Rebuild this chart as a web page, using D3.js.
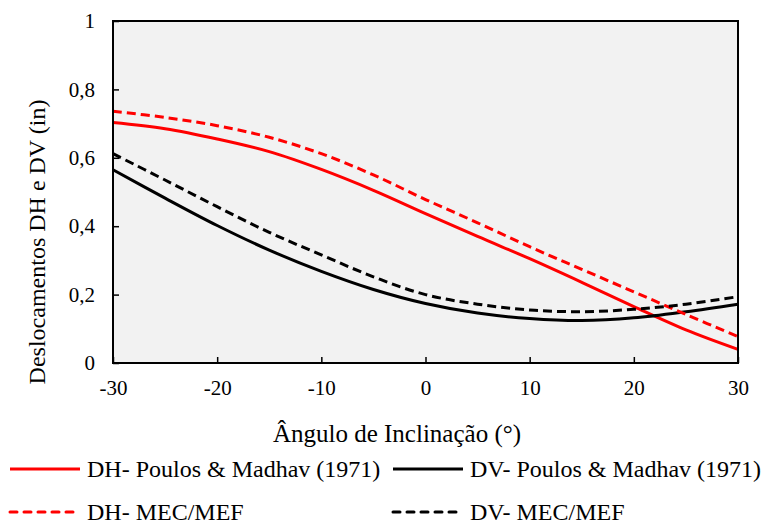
<!DOCTYPE html>
<html>
<head>
<meta charset="utf-8">
<script src="https://cdn.jsdelivr.net/npm/d3@7"></script>
<style>
  body { margin: 0; background: #fff; }
  svg text { font-family: "Liberation Serif", Tinos, "Times New Roman", Times, "DejaVu Serif", serif; fill: #000; }
</style>
</head>
<body>
<div id="chart"></div>
<script>
// angle of inclination (deg)
const angles = [-30, -25, -20, -15, -10, -5, 0, 5, 10, 15, 20, 25, 30];
// displacements (in)
const dhPoulos = [0.703, 0.685, 0.655, 0.618, 0.566, 0.505, 0.437, 0.370, 0.305, 0.236, 0.165, 0.097, 0.040];
const dhMec    = [0.736, 0.718, 0.694, 0.660, 0.612, 0.550, 0.478, 0.410, 0.340, 0.274, 0.208, 0.142, 0.077];
const dvPoulos = [0.565, 0.482, 0.402, 0.330, 0.268, 0.215, 0.174, 0.146, 0.130, 0.124, 0.132, 0.150, 0.172];
const dvMec    = [0.612, 0.535, 0.457, 0.382, 0.316, 0.252, 0.200, 0.172, 0.155, 0.150, 0.157, 0.172, 0.194];
const xTicks = [-30, -20, -10, 0, 10, 20, 30];
const yTicks = [0, 0.2, 0.4, 0.6, 0.8, 1];

const series = [
  {name: "DH- Poulos & Madhav (1971)", values: dhPoulos, color: "#ff0000", dash: null},
  {name: "DV- Poulos & Madhav (1971)", values: dvPoulos, color: "#000000", dash: null},
  {name: "DH- MEC/MEF", values: dhMec, color: "#ff0000", dash: "9,5"},
  {name: "DV- MEC/MEF", values: dvMec, color: "#000000", dash: "9,5"}
];

const width = 764, height = 524;
const m = {left: 113, right: 26, top: 21, bottom: 161};
const serif = '"Liberation Serif", Tinos, "Times New Roman", Times, "DejaVu Serif", serif';

const svg = d3.select("#chart").append("svg")
  .attr("width", width)
  .attr("height", height);

const x = d3.scaleLinear().domain([-30, 30]).range([m.left, width - m.right]);
const y = d3.scaleLinear().domain([0, 1]).range([height - m.bottom, m.top]);

svg.append("rect")
  .attr("x", x(-30)).attr("y", y(1))
  .attr("width", x(30) - x(-30)).attr("height", y(0) - y(1))
  .attr("fill", "#f2f2f2");

const fmtY = d => d3.format(".1~f")(d).replace(".", ",");
const fmtX = d => String(d);

// x axis, ticks pointing up into the plot
const xAxis = svg.append("g")
  .attr("transform", `translate(0,${y(0)})`)
  .call(d3.axisBottom(x).tickValues(xTicks).tickFormat(fmtX).tickSizeInner(-6).tickSizeOuter(0).tickPadding(17));
xAxis.attr("font-family", serif);
xAxis.select(".domain").remove();
xAxis.selectAll("line").attr("stroke", "#000").attr("stroke-width", 1.5);
xAxis.selectAll("text").attr("font-size", 21);

const yAxis = svg.append("g")
  .attr("transform", `translate(${x(-30)},0)`)
  .call(d3.axisLeft(y).tickValues(yTicks).tickFormat(fmtY).tickSizeInner(-6).tickSizeOuter(0).tickPadding(18));
yAxis.attr("font-family", serif);
yAxis.select(".domain").remove();
yAxis.selectAll("line").attr("stroke", "#000").attr("stroke-width", 1.5);
yAxis.selectAll("text").attr("font-size", 21);

// lines
const line = d3.line()
  .x((d, i) => x(angles[i]))
  .y(d => y(d))
  .curve(d3.curveCatmullRom.alpha(0.5));

const plot = svg.append("g");
series.forEach(s => {
  plot.append("path")
    .datum(s.values)
    .attr("d", line)
    .attr("fill", "none")
    .attr("stroke", s.color)
    .attr("stroke-width", 3)
    .attr("stroke-dasharray", s.dash);
});

// frame
svg.append("rect")
  .attr("x", x(-30)).attr("y", y(1))
  .attr("width", x(30) - x(-30)).attr("height", y(0) - y(1))
  .attr("fill", "none")
  .attr("stroke", "#000")
  .attr("stroke-width", 2);

// axis titles
svg.append("text")
  .attr("x", 397).attr("y", 442)
  .attr("text-anchor", "middle")
  .attr("font-size", 25)
  .text("Ângulo de Inclinação (°)");

svg.append("text")
  .attr("transform", `translate(45,242) rotate(-90)`)
  .attr("text-anchor", "middle")
  .attr("font-size", 24)
  .text("Deslocamentos DH e DV  (in)");

// legend
const legPos = [[10, 469], [393, 469], [10, 512], [393, 512]];
series.forEach((s, i) => {
  const [lx, ly] = legPos[i];
  const g = svg.append("g").attr("transform", `translate(${lx},${ly})`);
  g.append("line")
    .attr("x1", 0).attr("x2", 70)
    .attr("stroke", s.color)
    .attr("stroke-width", 3)
    .attr("stroke-linecap", s.dash ? "round" : "butt")
    .attr("stroke-dasharray", s.dash ? "7,7" : null);
  g.append("text")
    .attr("x", 77).attr("y", 8)
    .attr("font-size", 24)
    .text(s.name);
});
</script>
</body>
</html>
